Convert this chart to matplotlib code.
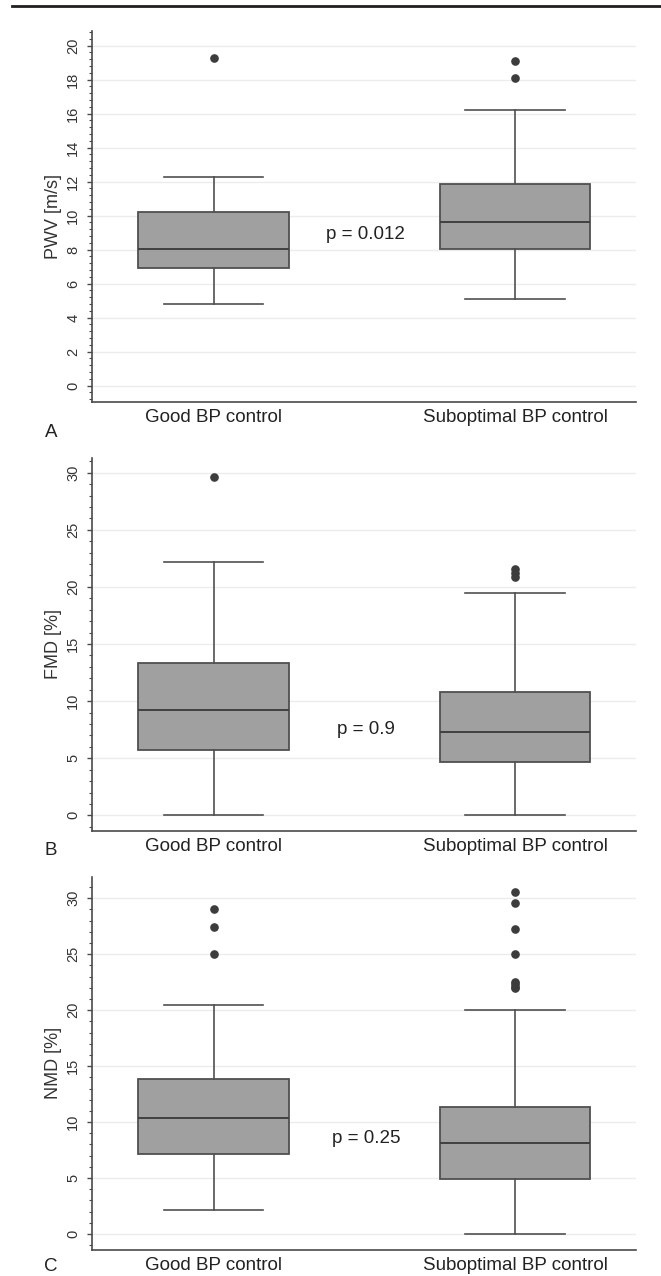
import matplotlib
matplotlib.use("Agg")
import matplotlib.pyplot as plt
from matplotlib.lines import Line2D
from matplotlib.ticker import MultipleLocator, AutoMinorLocator

plt.rcParams["font.family"] = ["Liberation Sans", "DejaVu Sans"]

# Data
groups = ["Good BP control", "Suboptimal BP control"]

# A: PWV [m/s]
pwv_whislo = [4.8, 5.1]
pwv_q1 = [6.95, 8.02]
pwv_med = [8.05, 9.6]
pwv_q3 = [10.2, 11.88]
pwv_whishi = [12.28, 16.2]
pwv_fliers = [[19.3], [19.1, 18.1]]
pwv_p = "p = 0.012"

# B: FMD [%]
fmd_whislo = [0.0, 0.0]
fmd_q1 = [5.7, 4.65]
fmd_med = [9.22, 7.27]
fmd_q3 = [13.3, 10.77]
fmd_whishi = [22.2, 19.44]
fmd_fliers = [[29.6], [21.6, 21.25, 20.9]]
fmd_p = "p = 0.9"

# C: NMD [%]
nmd_whislo = [2.12, 0.0]
nmd_q1 = [7.18, 4.92]
nmd_med = [10.37, 8.1]
nmd_q3 = [13.88, 11.35]
nmd_whishi = [20.44, 20.0]
nmd_fliers = [[29.04, 27.46, 25.0], [30.6, 29.6, 27.26, 25.0, 22.5, 22.3, 22.1, 21.95]]
nmd_p = "p = 0.25"

BOX_FILL = "#a0a0a0"
LINE = "#505050"
AX_COL = "#4a4a4a"


def make_stats(lo, q1, med, q3, hi, fliers):
    return [dict(whislo=lo[i], q1=q1[i], med=med[i], q3=q3[i], whishi=hi[i],
                 fliers=fliers[i], label=groups[i]) for i in range(len(groups))]


def draw_panel(ax, stats, ylabel, ylim, major, ptext, py):
    ax.bxp(stats, positions=[1, 2], widths=0.5, capwidths=0.33,
           patch_artist=True, showfliers=True,
           boxprops=dict(facecolor=BOX_FILL, edgecolor=LINE, linewidth=1.3),
           medianprops=dict(color="#404040", linewidth=1.4),
           whiskerprops=dict(color=LINE, linewidth=1.2),
           capprops=dict(color=LINE, linewidth=1.2),
           flierprops=dict(marker="o", markersize=5.2, markerfacecolor="#3c3c3c",
                           markeredgecolor="#3c3c3c"))
    ax.set_xlim(0.595, 2.40)
    ax.set_ylim(*ylim)
    ax.yaxis.set_major_locator(MultipleLocator(major))
    ax.yaxis.set_minor_locator(AutoMinorLocator(5))
    ax.yaxis.grid(True, which="major", color="#ececec", linewidth=1.0)
    ax.set_axisbelow(True)
    for s in ["top", "right"]:
        ax.spines[s].set_visible(False)
    for s in ["left", "bottom"]:
        ax.spines[s].set_color(AX_COL)
        ax.spines[s].set_linewidth(1.2)
    ax.tick_params(axis="y", which="major", length=3.6, width=1.0, color=AX_COL,
                   labelsize=10.5, labelrotation=90, pad=4.5, labelcolor="#333333")
    ax.tick_params(axis="y", which="minor", length=2.0, width=0.8, color=AX_COL)
    ax.tick_params(axis="x", length=0, labelsize=13.5, pad=5, labelcolor="#222222")
    for lab in ax.get_yticklabels():
        lab.set_va("center")
    ax.set_xticks([1, 2])
    ax.set_xticklabels(groups)
    ax.set_ylabel(ylabel, fontsize=13, color="#333333")
    ax.yaxis.set_label_coords(-0.055, 0.5)
    ax.text(1.505, py, ptext, ha="center", va="center", fontsize=13.5, color="#222222")


fig = plt.figure(figsize=(6.61, 12.76), dpi=100)
W, H = 661.0, 1276.0
left = 91.5 / W
width = 544.0 / W

ax_a = fig.add_axes([left, 1 - 402 / H, width, 371 / H])
ax_b = fig.add_axes([left, 1 - 831 / H, width, 373.3 / H])
ax_c = fig.add_axes([left, 1 - 1250 / H, width, 373.3 / H])

draw_panel(ax_a, make_stats(pwv_whislo, pwv_q1, pwv_med, pwv_q3, pwv_whishi, pwv_fliers),
           "PWV [m/s]", (-0.96, 20.86), 2, pwv_p, 8.9)
draw_panel(ax_b, make_stats(fmd_whislo, fmd_q1, fmd_med, fmd_q3, fmd_whishi, fmd_fliers),
           "FMD [%]", (-1.37, 31.31), 5, fmd_p, 7.55)
draw_panel(ax_c, make_stats(nmd_whislo, nmd_q1, nmd_med, nmd_q3, nmd_whishi, nmd_fliers),
           "NMD [%]", (-1.43, 31.93), 5, nmd_p, 8.55)

# panel letters
for letter, yb in [("A", 437), ("B", 855), ("C", 1271)]:
    fig.text(51 / W, 1 - yb / H, letter, ha="center", va="baseline",
             fontsize=13.5, color="#222222")

# rule at the top of the page
fig.add_artist(Line2D([12 / W, 1.0], [1 - 6 / H, 1 - 6 / H], color="#231f20",
                      linewidth=2.0, transform=fig.transFigure))

fig.savefig("out.png", dpi=100)
